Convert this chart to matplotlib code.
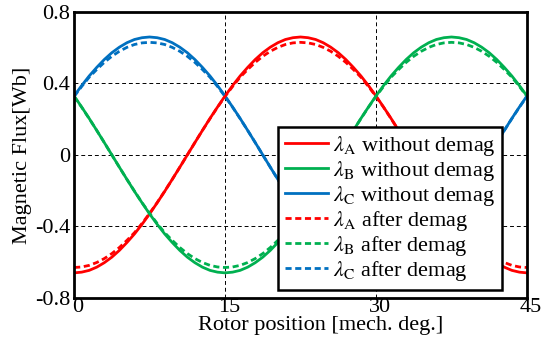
import matplotlib
matplotlib.use("Agg")
import matplotlib.pyplot as plt
import matplotlib.transforms as mtransforms

# rotor position, every 0.75 mech. deg.
pos = [i * 0.75 for i in range(61)]

# flux linkage [Wb]
lam_a = [-0.660, -0.656, -0.646, -0.628, -0.603, -0.572, -0.534, -0.490,
         -0.442, -0.388, -0.330, -0.268, -0.204, -0.137, -0.069, 0.000,
         0.069, 0.137, 0.204, 0.268, 0.330, 0.388, 0.442, 0.490,
         0.534, 0.572, 0.603, 0.628, 0.646, 0.656, 0.660,
         0.656, 0.646, 0.628, 0.603, 0.572, 0.534, 0.490, 0.442,
         0.388, 0.330, 0.268, 0.204, 0.137, 0.069, 0.000,
         -0.069, -0.137, -0.204, -0.268, -0.330, -0.388, -0.442, -0.490,
         -0.534, -0.572, -0.603, -0.628, -0.646, -0.656, -0.660]
lam_b = [0.330, 0.268, 0.204, 0.137, 0.069, 0.000, -0.069, -0.137,
         -0.204, -0.268, -0.330, -0.388, -0.442, -0.490, -0.534, -0.572,
         -0.603, -0.628, -0.646, -0.656, -0.660,
         -0.656, -0.646, -0.628, -0.603, -0.572, -0.534, -0.490, -0.442,
         -0.388, -0.330, -0.268, -0.204, -0.137, -0.069, 0.000,
         0.069, 0.137, 0.204, 0.268, 0.330, 0.388, 0.442, 0.490,
         0.534, 0.572, 0.603, 0.628, 0.646, 0.656, 0.660,
         0.656, 0.646, 0.628, 0.603, 0.572, 0.534, 0.490, 0.442,
         0.388, 0.330]
lam_c = [0.330, 0.388, 0.442, 0.490, 0.534, 0.572, 0.603, 0.628,
         0.646, 0.656, 0.660, 0.656, 0.646, 0.628, 0.603, 0.572,
         0.534, 0.490, 0.442, 0.388, 0.330, 0.268, 0.204, 0.137,
         0.069, 0.000, -0.069, -0.137, -0.204, -0.268, -0.330, -0.388,
         -0.442, -0.490, -0.534, -0.572, -0.603, -0.628, -0.646, -0.656,
         -0.660, -0.656, -0.646, -0.628, -0.603, -0.572, -0.534, -0.490,
         -0.442, -0.388, -0.330, -0.268, -0.204, -0.137, -0.069, 0.000,
         0.069, 0.137, 0.204, 0.268, 0.330]

lam_a_dm = [-0.630, -0.627, -0.618, -0.602, -0.580, -0.552, -0.518, -0.478,
            -0.435, -0.383, -0.327, -0.267, -0.203, -0.137, -0.069, 0.000,
            0.069, 0.137, 0.203, 0.267, 0.327, 0.383, 0.435, 0.478,
            0.518, 0.552, 0.580, 0.602, 0.618, 0.627, 0.630,
            0.627, 0.618, 0.602, 0.580, 0.552, 0.518, 0.478, 0.435,
            0.383, 0.327, 0.267, 0.203, 0.137, 0.069, 0.000,
            -0.069, -0.137, -0.203, -0.267, -0.327, -0.383, -0.435, -0.478,
            -0.518, -0.552, -0.580, -0.602, -0.618, -0.627, -0.630]
lam_b_dm = [0.327, 0.267, 0.203, 0.137, 0.069, 0.000, -0.069, -0.137,
            -0.203, -0.267, -0.327, -0.383, -0.435, -0.478, -0.518, -0.552,
            -0.580, -0.602, -0.618, -0.627, -0.630,
            -0.627, -0.618, -0.602, -0.580, -0.552, -0.518, -0.478, -0.435,
            -0.383, -0.327, -0.267, -0.203, -0.137, -0.069, 0.000,
            0.069, 0.137, 0.203, 0.267, 0.327, 0.383, 0.435, 0.478,
            0.518, 0.552, 0.580, 0.602, 0.618, 0.627, 0.630,
            0.627, 0.618, 0.602, 0.580, 0.552, 0.518, 0.478, 0.435,
            0.383, 0.327]
lam_c_dm = [0.327, 0.383, 0.435, 0.478, 0.518, 0.552, 0.580, 0.602,
            0.618, 0.627, 0.630, 0.627, 0.618, 0.602, 0.580, 0.552,
            0.518, 0.478, 0.435, 0.383, 0.327, 0.267, 0.203, 0.137,
            0.069, 0.000, -0.069, -0.137, -0.203, -0.267, -0.327, -0.383,
            -0.435, -0.478, -0.518, -0.552, -0.580, -0.602, -0.618, -0.627,
            -0.630, -0.627, -0.618, -0.602, -0.580, -0.552, -0.518, -0.478,
            -0.435, -0.383, -0.327, -0.267, -0.203, -0.137, -0.069, 0.000,
            0.069, 0.137, 0.203, 0.267, 0.327]

x_ticks = [0, 15, 30, 45]
y_ticks = [-0.8, -0.4, 0, 0.4, 0.8]
y_tick_labels = ["-0.8", "-0.4", "0", "0.4", "0.8"]

RED = "#ff0000"
GREEN = "#00b050"
BLUE = "#0070c0"
DASH = (0, (2.2, 1.3))

plt.rcParams["font.family"] = ["Liberation Serif", "DejaVu Serif"]
plt.rcParams["mathtext.fontset"] = "stix"

fig = plt.figure(figsize=(5.41, 3.42), dpi=100)
ax = fig.add_axes([0.137, 0.129, 0.837, 0.836])

ax.plot(pos, lam_a, color=RED, lw=2, label=r"$\lambda_\mathrm{A}$ without demag")
ax.plot(pos, lam_b, color=GREEN, lw=2, label=r"$\lambda_\mathrm{B}$ without demag")
ax.plot(pos, lam_c, color=BLUE, lw=2, label=r"$\lambda_\mathrm{C}$ without demag")
ax.plot(pos, lam_a_dm, color=RED, lw=2, ls=DASH, label=r"$\lambda_\mathrm{A}$ after demag")
ax.plot(pos, lam_b_dm, color=GREEN, lw=2, ls=DASH, label=r"$\lambda_\mathrm{B}$ after demag")
ax.plot(pos, lam_c_dm, color=BLUE, lw=2, ls=DASH, label=r"$\lambda_\mathrm{C}$ after demag")

ax.set_xlim(0, 45)
ax.set_ylim(-0.8, 0.8)
ax.set_xticks(x_ticks)
ax.set_yticks(y_ticks)
ax.set_yticklabels(y_tick_labels)
ax.tick_params(length=0, labelsize=16, pad=3)
ax.tick_params(axis="x", pad=0)
# x tick labels sit a little right of their grid lines in the original
shift = mtransforms.ScaledTranslation(4 / 100, 0, fig.dpi_scale_trans)
for lbl in ax.get_xticklabels():
    lbl.set_transform(lbl.get_transform() + shift)
ax.grid(True, color="black", ls=(0, (4, 3)), lw=0.7)
for s in ax.spines.values():
    s.set_linewidth(2)

ax.set_xlabel("Rotor position [mech. deg.]", fontsize=16)
ax.xaxis.set_label_coords(0.545, -0.063)
ax.xaxis.label.set_va("top")
ax.set_ylabel("Magnetic Flux[Wb]", fontsize=16, labelpad=2)

leg = ax.legend(loc="lower right", bbox_to_anchor=(0.945, 0.028), fontsize=16,
                fancybox=False, framealpha=1, edgecolor="black",
                handlelength=1.95, labelspacing=0.05, borderpad=0.3,
                handletextpad=0.2, borderaxespad=0)
leg.get_frame().set_linewidth(1.8)

fig.savefig("out.png", dpi=100)
